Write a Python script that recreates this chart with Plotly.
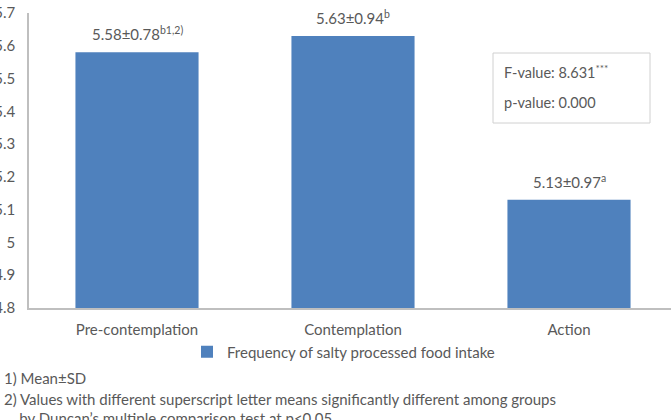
import plotly.graph_objects as go

categories = ["Pre-contemplation", "Contemplation", "Action"]
means = [5.58, 5.63, 5.13]
sds = [0.78, 0.94, 0.97]
sup_letters = ["b1,2)", "b", "a"]
series_name = "Frequency of salty processed food intake"
y_ticks = [4.8, 4.9, 5.0, 5.1, 5.2, 5.3, 5.4, 5.5, 5.6, 5.7]
f_value = "8.631"
p_value = "0.000"
notes = [
    "1) Mean\u00b1SD",
    "2) Values with different superscript letter means significantly different among groups",
    "    by Duncan\u2019s multiple comparison test at p<0.05",
]

W, H = 671, 420
L, R, T, B = 29, 0, 13, 112
plot_w = W - L - R
plot_h = H - T - B
spacing = 216.0

def px_x(px):
    return (px - L) / plot_w

def px_y(py):
    return (H - B - py) / plot_h

FONT = "Lato"
FS = 15
GRAY = "#595959"
AXIS = "#BFBFBF"
BLUE = "#4F81BD"

fig = go.Figure()
fig.add_trace(go.Bar(
    x=categories, y=means, name=series_name,
    marker=dict(color=BLUE, line=dict(width=0)),
    width=0.57, showlegend=True,
))

for c, m, s, sup in zip(categories, means, sds, sup_letters):
    fig.add_annotation(
        x=c, y=m, xref="x", yref="y",
        text=f"{m:.2f}\u00b1{s:.2f}<sup>{sup}</sup>",
        showarrow=False, yanchor="bottom", yshift=7,
        font=dict(family=FONT, size=FS, color=GRAY),
    )

# stats box
fig.add_shape(type="rect", xref="paper", yref="paper",
              x0=px_x(493), x1=px_x(650), y0=px_y(123), y1=px_y(53),
              line=dict(color="#D0D0D0", width=1), fillcolor="white")
fig.add_annotation(xref="paper", yref="paper", x=px_x(502), y=px_y(72),
                   xanchor="left", yanchor="middle", showarrow=False,
                   text=f"F-value: {f_value}<sup>***</sup>",
                   font=dict(family=FONT, size=14.5, color=GRAY))
fig.add_annotation(xref="paper", yref="paper", x=px_x(502), y=px_y(102),
                   xanchor="left", yanchor="middle", showarrow=False,
                   text=f"p-value: {p_value}",
                   font=dict(family=FONT, size=14.5, color=GRAY))

# footnotes
note_y = [378, 399, 418]
note_x = [2, 2, 2]
for t, yy, xx in zip(notes, note_y, note_x):
    fig.add_annotation(xref="paper", yref="paper", x=px_x(xx), y=px_y(yy),
                       xanchor="left", yanchor="middle", showarrow=False,
                       text=t.replace("    ", "&nbsp;&nbsp;&nbsp;&nbsp;"),
                       font=dict(family=FONT, size=FS, color=GRAY))

fig.update_layout(
    width=W, height=H,
    margin=dict(l=L, r=R, t=T, b=B, autoexpand=False),
    paper_bgcolor="white", plot_bgcolor="white",
    font=dict(family=FONT, size=FS, color=GRAY),
    bargap=0.43,
    legend=dict(orientation="h", xref="container", yref="container",
                x=187 / W, y=1 - 352 / H, xanchor="left", yanchor="middle",
                font=dict(family=FONT, size=FS, color=GRAY),
                itemwidth=30, bgcolor="rgba(0,0,0,0)"),
    xaxis=dict(range=[-0.5, -0.5 + plot_w / spacing], showline=True,
               linecolor=AXIS, linewidth=1.5, ticks="", showgrid=False,
               zeroline=False, ticklabelstandoff=7,
               tickfont=dict(family=FONT, size=FS, color=GRAY)),
    yaxis=dict(range=[4.8, 5.7], tickvals=y_ticks,
               ticktext=[f"{v:g}" for v in y_ticks],
               showline=True, linecolor=AXIS, linewidth=1.5, ticks="",
               showgrid=False, zeroline=False, ticklabelstandoff=9,
               tickfont=dict(family=FONT, size=FS, color=GRAY)),
)

fig.write_html("out.html")
